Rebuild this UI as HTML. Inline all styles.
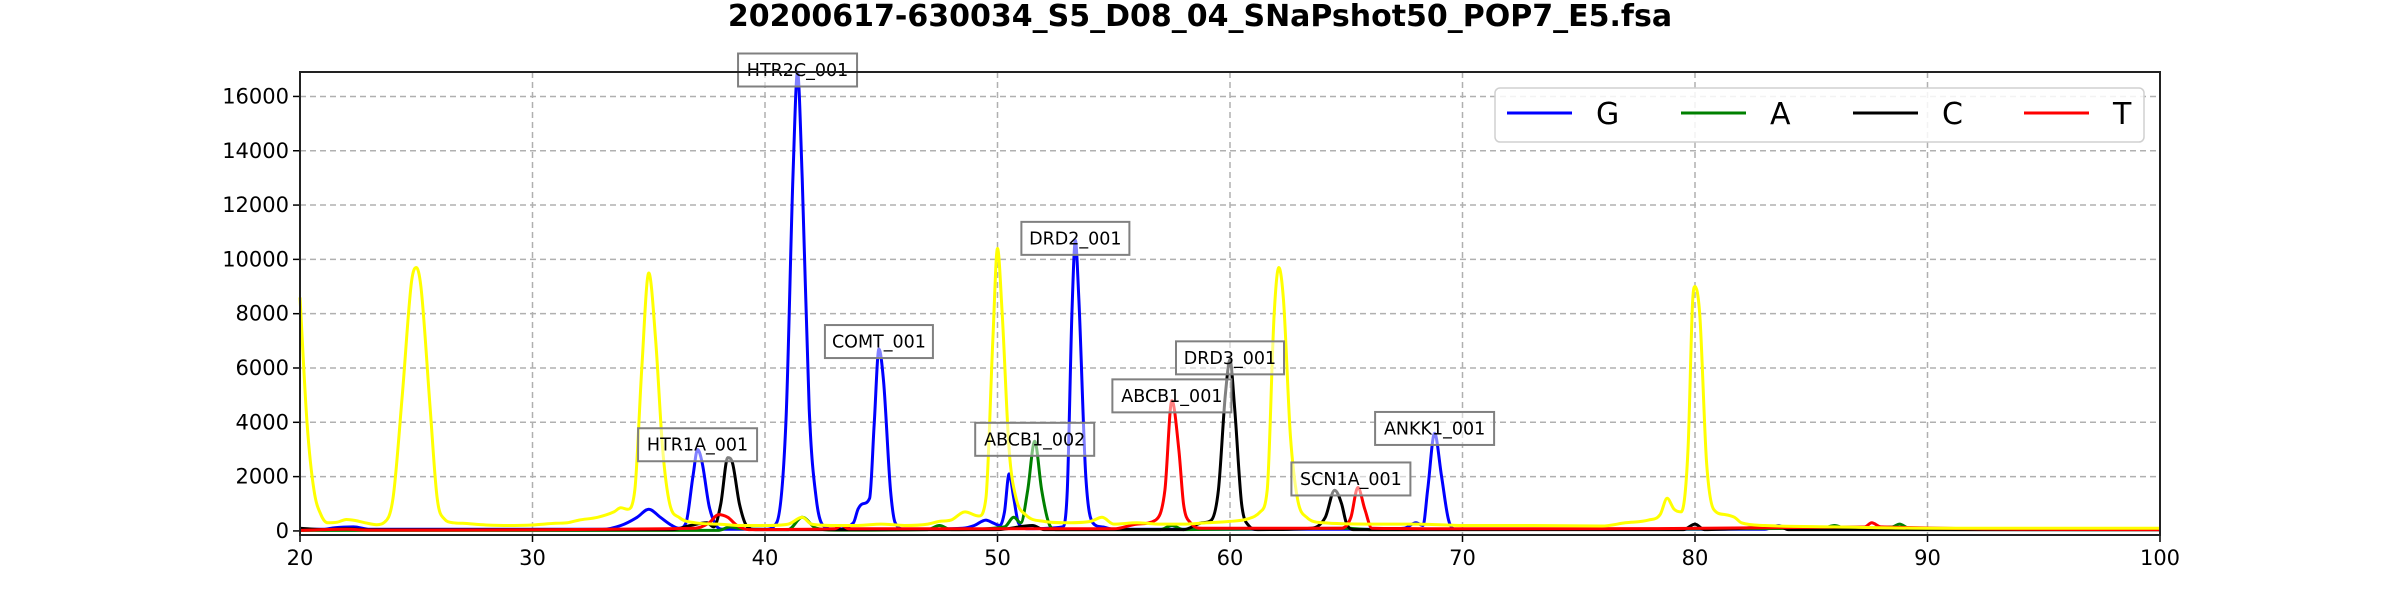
<!DOCTYPE html>
<html><head><meta charset="utf-8"><style>
body{margin:0;background:#fff;}
svg text{font-family:"DejaVu Sans","Liberation Sans",sans-serif;}
</style></head><body>
<svg id="chart" width="2400" height="600" xmlns="http://www.w3.org/2000/svg">
<text x="1200" y="26" text-anchor="middle" font-size="30" font-weight="bold" fill="#000">20200617-630034_S5_D08_04_SNaPshot50_POP7_E5.fsa</text>
<g id="grid"></g>
<g id="series"></g>
<g id="labels"></g>
<g id="axes"></g>
<g id="legend"></g>
</svg>
<script>
const xTicks=[20,30,40,50,60,70,80,90,100];
const yTicks=[0,2000,4000,6000,8000,10000,12000,14000,16000];
const seriesNames=['G','A','C','T'];
const seriesG=[[20,60],[21,60],[21.5,120],[22.3,150],[23,60],[33,60],[33.8,200],[34.5,500],[35,800],[35.5,500],[36,200],[36.3,100],[36.6,300],[36.9,2000],[37.1,3000],[37.3,2500],[37.6,900],[37.9,200],[38.2,60],[40,60],[40.5,300],[40.9,4000],[41.2,13000],[41.4,16900],[41.6,13000],[41.9,4500],[42.2,1200],[42.5,200],[43,60],[43.8,300],[44,800],[44.2,1000],[44.5,1200],[44.7,4000],[44.9,6700],[45.1,5500],[45.4,1500],[45.6,300],[46,60],[48.5,100],[49,200],[49.5,400],[49.8,300],[50.1,200],[50.3,700],[50.5,2100],[50.7,1200],[50.9,300],[51.3,80],[52.8,150],[53.0,1500],[53.2,8000],[53.35,10700],[53.5,8500],[53.8,2000],[54.1,300],[54.5,150],[55,60],[66,60],[67.5,100],[68,300],[68.3,200],[68.5,1500],[68.8,3600],[69.1,2000],[69.4,400],[69.7,60],[83,60],[83.6,200],[84,60],[100,60]];
const seriesA=[[20,20],[38,20],[38.5,150],[39,80],[41,50],[41.6,500],[42.2,100],[43,30],[47,50],[47.5,200],[48,50],[50.3,150],[50.7,500],[51,300],[51.3,1500],[51.6,3300],[51.9,1500],[52.2,300],[52.5,50],[57,50],[57.5,200],[58,50],[65,100],[66,50],[85.5,100],[86,200],[86.5,100],[88.5,150],[88.8,250],[89.2,100],[100,50]];
const seriesC=[[20,100],[21,50],[22,80],[23,40],[36,50],[36.8,200],[37.5,300],[37.8,150],[38.1,1000],[38.4,2700],[38.6,2500],[38.9,1000],[39.2,200],[39.6,50],[50,50],[51.5,200],[52,50],[58,50],[58.8,300],[59.2,400],[59.5,1500],[59.8,5000],[60,6300],[60.2,4500],[60.5,1000],[60.8,200],[61.2,50],[63.5,100],[64.1,500],[64.5,1500],[64.8,1000],[65,300],[65.3,50],[79.5,50],[80,250],[80.4,50],[83.7,150],[84,50],[100,40]];
const seriesT=[[20,20],[22,60],[23,30],[37,100],[37.6,300],[38,600],[38.4,500],[38.8,200],[39.3,50],[43,80],[43.3,200],[43.6,80],[55,80],[56,250],[56.8,400],[57.2,1500],[57.5,4800],[57.8,3000],[58,1000],[58.3,300],[58.8,100],[64.8,100],[65.2,500],[65.5,1600],[65.8,800],[66.1,100],[70,80],[87.3,150],[87.6,300],[88,150],[100,50]];
const seriesStd=[[20,8600],[20.3,4000],[20.6,1500],[20.9,600],[21.2,300],[21.6,320],[22,420],[22.4,380],[22.8,300],[23.3,230],[23.6,300],[24,1200],[24.4,5000],[24.8,9200],[25,9700],[25.2,9000],[25.6,4500],[25.9,1200],[26.2,450],[26.6,300],[27,280],[28,220],[29,200],[30,220],[31,280],[31.5,300],[32,400],[32.8,500],[33.5,700],[33.8,850],[34.1,800],[34.4,1500],[34.7,6000],[35,9500],[35.3,7000],[35.6,3000],[35.9,1000],[36.3,500],[37,300],[38,250],[39,200],[40,200],[41,250],[41.6,500],[42,250],[43,200],[44,200],[45,250],[46,200],[47,250],[47.5,350],[48,400],[48.6,700],[49.2,550],[49.5,1200],[49.8,7000],[50,10400],[50.2,8000],[50.5,3000],[50.8,1200],[51.2,600],[52,350],[53,300],[54,350],[54.5,500],[55,250],[56,300],[57,250],[58,250],[59,300],[60,350],[60.8,450],[61.3,700],[61.6,1500],[61.9,8000],[62.1,9700],[62.3,8500],[62.6,3500],[62.9,1200],[63.3,500],[64,300],[66,250],[68,250],[70,200],[73,200],[76,180],[77,300],[78,400],[78.5,600],[78.8,1200],[79.1,800],[79.4,700],[79.7,3000],[79.9,8500],[80,9000],[80.2,8000],[80.5,2500],[80.8,800],[81.3,600],[81.7,500],[82,300],[83,200],[86,150],[90,100],[95,100],[100,100]];
const labelNames=['HTR2C_001','HTR1A_001','COMT_001','ABCB1_002','DRD2_001','ABCB1_001','DRD3_001','SCN1A_001','ANKK1_001'];
const labelX=[41.4,37.1,44.9,51.6,53.35,57.5,60,65.2,68.8];
const labelY=[16900,3100,6900,3300,10700,4900,6300,1840,3700];

const NS='http://www.w3.org/2000/svg';
const L=300,R=2160,T=72,B=535,X0=20,X1=100,Y0=-150,Y1=16900;
const sx=v=>L+(v-X0)/(X1-X0)*(R-L);
const sy=v=>B-(v-Y0)/(Y1-Y0)*(B-T);
function mk(tag,attrs,parent){const e=document.createElementNS(NS,tag);for(const k in attrs)e.setAttribute(k,attrs[k]);parent.appendChild(e);return e;}
function smoothPath(d){
  const P=d.map(q=>[sx(q[0]),sy(q[1])]);const n=P.length;
  const dl=[],m=[];
  for(let i=0;i<n-1;i++)dl.push((P[i+1][1]-P[i][1])/(P[i+1][0]-P[i][0]));
  for(let i=0;i<n;i++){
    if(i==0)m.push(dl[0]);else if(i==n-1)m.push(dl[n-2]);
    else m.push(dl[i-1]*dl[i]<=0?0:(dl[i-1]+dl[i])/2);
  }
  for(let i=0;i<n-1;i++){if(dl[i]==0){m[i]=0;m[i+1]=0;continue;}
    const a=m[i]/dl[i],b=m[i+1]/dl[i],s=a*a+b*b;if(s>9){const t=3/Math.sqrt(s);m[i]=t*a*dl[i];m[i+1]=t*b*dl[i];}}
  let s='M'+P[0][0].toFixed(1)+','+P[0][1].toFixed(1);
  for(let i=0;i<n-1;i++){const h=(P[i+1][0]-P[i][0])/3;
    s+=' C'+(P[i][0]+h).toFixed(1)+','+(P[i][1]+m[i]*h).toFixed(1)+' '+(P[i+1][0]-h).toFixed(1)+','+(P[i+1][1]-m[i+1]*h).toFixed(1)+' '+P[i+1][0].toFixed(1)+','+P[i+1][1].toFixed(1);}
  return s;
}
const grid=document.getElementById('grid'),axes=document.getElementById('axes'),ser=document.getElementById('series'),lab=document.getElementById('labels'),leg=document.getElementById('legend');
xTicks.forEach(t=>{
  if(t>X0&&t<X1){const g=mk('line',{x1:sx(t),x2:sx(t),y1:T,y2:B,stroke:'#b0b0b0','stroke-width':1.5,'stroke-dasharray':'6,4'},grid);
  
  }
  const tk=mk('line',{x1:sx(t),x2:sx(t),y1:B,y2:B+7,stroke:'#000','stroke-width':1.5},axes);
  
  
  const tx=mk('text',{x:sx(t),y:B+30,'text-anchor':'middle','font-size':21},axes);tx.textContent=t;
  
  
});
yTicks.forEach(t=>{
  if(t>0){const g=mk('line',{x1:L,x2:R,y1:sy(t),y2:sy(t),stroke:'#b0b0b0','stroke-width':1.5,'stroke-dasharray':'6,4'},grid);
  
  }
  const tk=mk('line',{x1:L-7,x2:L,y1:sy(t),y2:sy(t),stroke:'#000','stroke-width':1.5},axes);
  
  
  const tx=mk('text',{x:L-11,y:sy(t)+7,'text-anchor':'end','font-size':21},axes);tx.textContent=t;
  
  
});
const fr=mk('rect',{x:L,y:T,width:R-L,height:B-T,fill:'none',stroke:'#222','stroke-width':2},axes);


const all=[[seriesG,'#0000ff','series-g'],[seriesA,'#008000','series-a'],[seriesC,'#000000','series-c'],[seriesT,'#ff0000','series-t'],[seriesStd,'#ffff00','size-standard']];
all.forEach(([d,c,n])=>{
  const p=mk('path',{d:smoothPath(d),fill:'none',stroke:c,'stroke-width':3,'stroke-linejoin':'round'},ser);
  
  
});
labelNames.forEach((s,i)=>{
  const cx=sx(labelX[i]),cy=sy(labelY[i])-2;
  const w=s.length*11+20,h=33;
  const r=mk('rect',{x:cx-w/2,y:cy-h/2,width:w,height:h,fill:'rgba(255,255,255,0.5)',stroke:'#808080','stroke-width':2},lab);
  
  
  const t=mk('text',{x:cx,y:cy+6,'text-anchor':'middle','font-size':17.5},lab);t.textContent=s;
  
  
});
const lb=mk('rect',{x:1495,y:88,width:649,height:54,rx:5,fill:'rgba(255,255,255,0.85)',stroke:'#d0d0d0','stroke-width':1.5},leg);


const legX=[1507,1681,1853,2024],legC=['#0000ff','#008000','#000000','#ff0000'];
seriesNames.forEach((s,i)=>{
  const ln=mk('line',{x1:legX[i],x2:legX[i]+65,y1:113,y2:113,stroke:legC[i],'stroke-width':3},leg);
  
  
  const t=mk('text',{x:legX[i]+89,y:124,'font-size':30},leg);t.textContent=s;
  
  
});
</script>
</body></html>
